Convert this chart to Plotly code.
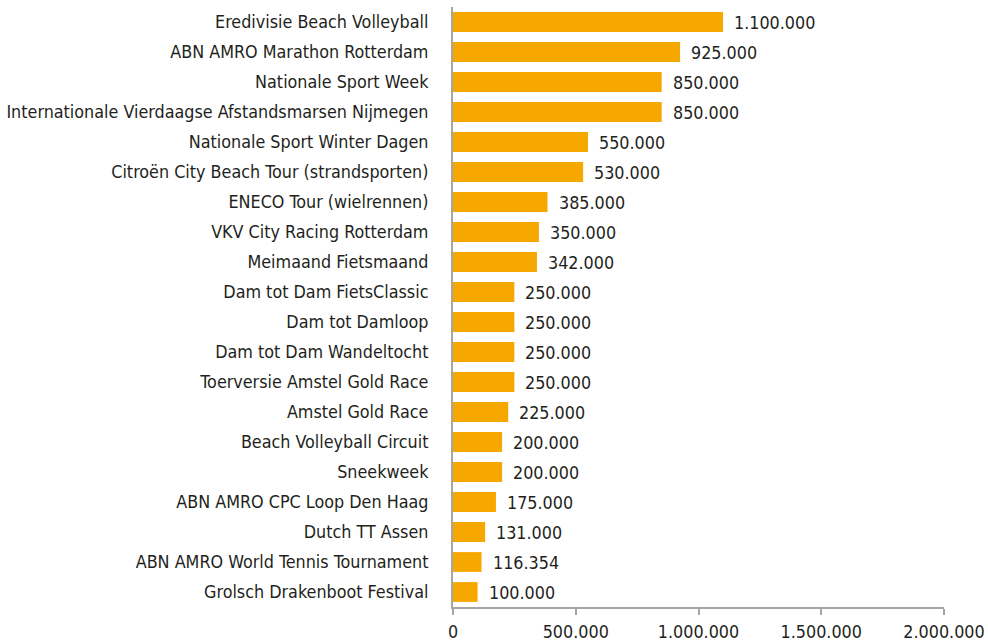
import plotly.graph_objects as go

events = [
    "Eredivisie Beach Volleyball",
    "ABN AMRO Marathon Rotterdam",
    "Nationale Sport Week",
    "Internationale Vierdaagse Afstandsmarsen Nijmegen",
    "Nationale Sport Winter Dagen",
    "Citroën City Beach Tour (strandsporten)",
    "ENECO Tour (wielrennen)",
    "VKV City Racing Rotterdam",
    "Meimaand Fietsmaand",
    "Dam tot Dam FietsClassic",
    "Dam tot Damloop",
    "Dam tot Dam Wandeltocht",
    "Toerversie Amstel Gold Race",
    "Amstel Gold Race",
    "Beach Volleyball Circuit",
    "Sneekweek",
    "ABN AMRO CPC Loop Den Haag",
    "Dutch TT Assen",
    "ABN AMRO World Tennis Tournament",
    "Grolsch Drakenboot Festival",
]
visitors = [1100000, 925000, 850000, 850000, 550000, 530000, 385000, 350000, 342000,
            250000, 250000, 250000, 250000, 225000, 200000, 200000, 175000, 131000,
            116354, 100000]
x_ticks = [0, 500000, 1000000, 1500000, 2000000]

FONT = "DejaVu Sans Condensed, Liberation Sans, sans-serif"
FS = 17.8
TXT = "#231F20"

fig = go.Figure(go.Bar(
    x=visitors, y=events, orientation="h",
    marker=dict(color="#F6A800", line=dict(width=0)),
    width=0.66,
))

for e, v in zip(events, visitors):
    fig.add_annotation(x=v, y=e, text=f"{v:,}".replace(",", "."), showarrow=False,
                       xanchor="left", xshift=9, font=dict(family=FONT, size=FS, color=TXT))

fig.update_layout(
    width=988, height=641,
    margin=dict(l=453, r=44, t=7, b=34),
    plot_bgcolor="white", paper_bgcolor="white",
    separators=",.",
    showlegend=False,
    font=dict(family=FONT, size=FS, color=TXT),
    xaxis=dict(range=[0, 2000000], tickvals=x_ticks, tickformat=",d", automargin=False,
               showgrid=False, zeroline=False, showline=True, linecolor="#A6A6A6", linewidth=2,
               ticks="outside", ticklen=6, tickcolor="#A6A6A6", tickwidth=2,
               tickfont=dict(family=FONT, size=FS, color=TXT), ticklabelstandoff=2),
    yaxis=dict(autorange="reversed", showgrid=False, zeroline=False, showline=True, automargin=False,
               linecolor="#A6A6A6", linewidth=2, ticks="", ticklabelstandoff=19,
               tickfont=dict(family=FONT, size=FS, color=TXT)),
)

fig.write_html("out.html", config={"displayModeBar": False},
               post_script="document.body.style.margin='0';")
